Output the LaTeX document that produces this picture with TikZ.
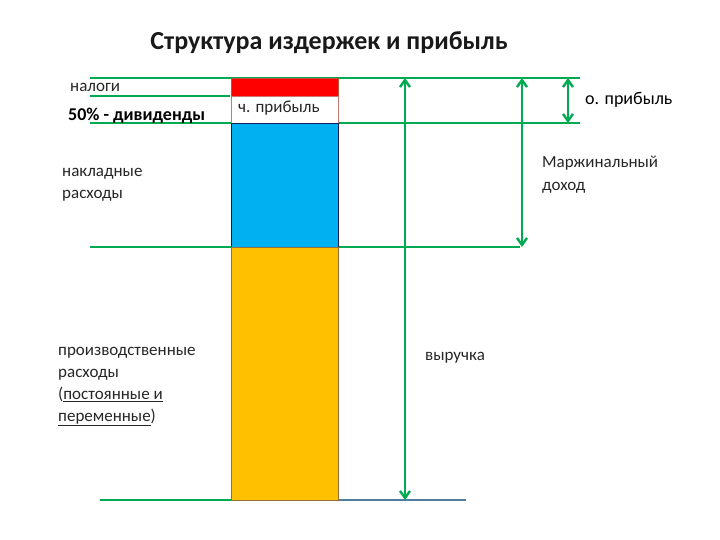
\documentclass[tikz,border=0pt]{standalone}
\usepackage{fontspec}
\setmainfont{Carlito}
\usetikzlibrary{arrows.meta}
\definecolor{gr}{RGB}{0,170,80}
\newcommand{\myul}[1]{$\underline{\hbox{#1}}$}
\begin{document}
\begin{tikzpicture}[x=1pt,y=-1pt,
  gl/.style={gr,line width=2.2pt},
  dbl/.style={gr,line width=2.4pt,{Straight Barb[length=7pt,width=10pt]}-{Straight Barb[length=7pt,width=10pt]}},
  lbl/.style={anchor=west,inner sep=0pt,font=\fontsize{17}{20}\selectfont,text=black!85,align=left}]
\useasboundingbox (0,0) rectangle (720,540);
\draw[gl] (90,78) -- (580,78);
\draw[gl] (90,96) -- (230,96);
\draw[gl] (90,123) -- (580,123);
\draw[gl] (90,247) -- (520,247);
\draw[gl] (100,500) -- (231,500);
\draw[line width=2.2pt,color={rgb,255:red,80;green,125;blue,160}] (338,500) -- (466,500);
\node[draw={rgb,255:red,190;green,80;blue,60},fill=red,minimum width=107pt,minimum height=18pt,inner sep=0pt,anchor=north west] (tax) at (231,78) {};
\node[draw={rgb,255:red,200;green,120;blue,110},fill=white,minimum width=107pt,minimum height=27pt,inner sep=0pt,anchor=north west] (np) at (231,96) {};
\node[draw={rgb,255:red,20;green,30;blue,90},fill={rgb,255:red,0;green,176;blue,240},line width=1pt,minimum width=107pt,minimum height=124pt,inner sep=0pt,anchor=north west] (ov) at (231,123) {};
\node[draw={rgb,255:red,150;green,110;blue,60},fill={rgb,255:red,255;green,192;blue,0},line width=1pt,minimum width=107pt,minimum height=253pt,inner sep=0pt,anchor=north west] (pr) at (231,247) {};
\coordinate (a1) at (405,78); \coordinate (a2) at (405,500);
\coordinate (b1) at (522,78); \coordinate (b2) at (522,247);
\coordinate (c1) at (568,78); \coordinate (c2) at (568,123);
\draw[dbl] (a1) -- (a2);
\draw[dbl] (b1) -- (b2);
\draw[dbl] (c1) -- (c2);
\node[font=\fontsize{26}{30}\selectfont\bfseries,text=black!90] (title) at (329,43) {Структура издержек и прибыль};
\node[lbl] (t1) at (70,87) {налоги};
\node[lbl,font=\fontsize{18}{20}\selectfont\bfseries,text=black] (t2) at (68,116) {50\% - дивиденды};
\node[lbl] (t3) at (238,108) {ч. прибыль};
\node[lbl,font=\fontsize{18}{20}\selectfont,text=black] (t4) at (585,100) {о. прибыль};
\node[lbl,anchor=north west,font=\fontsize{17}{23}\selectfont] (t5) at (542,156) {Маржинальный\\доход};
\node[lbl,anchor=north west,font=\fontsize{17}{22}\selectfont] (t6) at (62,168) {накладные\\расходы};
\node[lbl,anchor=north west,font=\fontsize{17}{22}\selectfont] (t7) at (58,347) {производственные\\расходы\\(\myul{постоянные и}\\\myul{переменные})};
\node[lbl] (t8) at (425,358) {выручка};
\end{tikzpicture}
\end{document}
